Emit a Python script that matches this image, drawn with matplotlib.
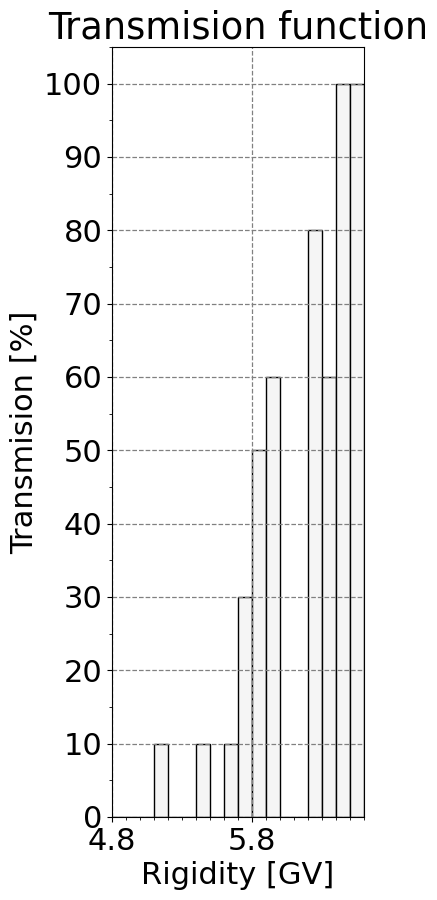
import numpy as np
import matplotlib
matplotlib.use("Agg")
from matplotlib import pyplot as plt
from matplotlib.ticker import MultipleLocator

# bin left edges [GV] and transmission per bin [%]
rigidity = [4.8, 4.9, 5.0, 5.1, 5.2, 5.3, 5.4, 5.5, 5.6, 5.7,
            5.8, 5.9, 6.0, 6.1, 6.2, 6.3, 6.4, 6.5]
transmision = [0, 0, 0, 10, 0, 0, 10, 0, 10, 30,
               50, 60, 0, 0, 80, 60, 100, 100]
bin_width = 0.1
xticks = [4.8, 5.8]

fig = plt.figure(figsize=(4.37, 9.0), dpi=100)
ax = fig.add_axes([112/437, 83/900, 252/437, 770/900])

ax.bar(rigidity, transmision, width=bin_width, align='edge',
       color='#f5f5f5', edgecolor='black', linewidth=1.0, zorder=1)

ax.set_xlim(4.8, 6.6)
ax.set_ylim(0, 105)
ax.set_xticks(xticks)
ax.set_xticklabels([str(t) for t in xticks])
ax.set_xticks(np.arange(4.8, 6.65, 0.1), minor=True)
ax.yaxis.set_major_locator(MultipleLocator(10))
ax.yaxis.set_minor_locator(MultipleLocator(5))
ax.set_axisbelow('line')
ax.grid(True, which='major', color='grey', linestyle='--', linewidth=0.9)

ax.tick_params(axis='both', which='major', labelsize=22)
ax.set_title("Transmision function", fontsize=26.5)
ax.set_xlabel("Rigidity [GV]", fontsize=22)
ax.set_ylabel("Transmision [%]", fontsize=22)

plt.savefig("out.png", dpi=100)
